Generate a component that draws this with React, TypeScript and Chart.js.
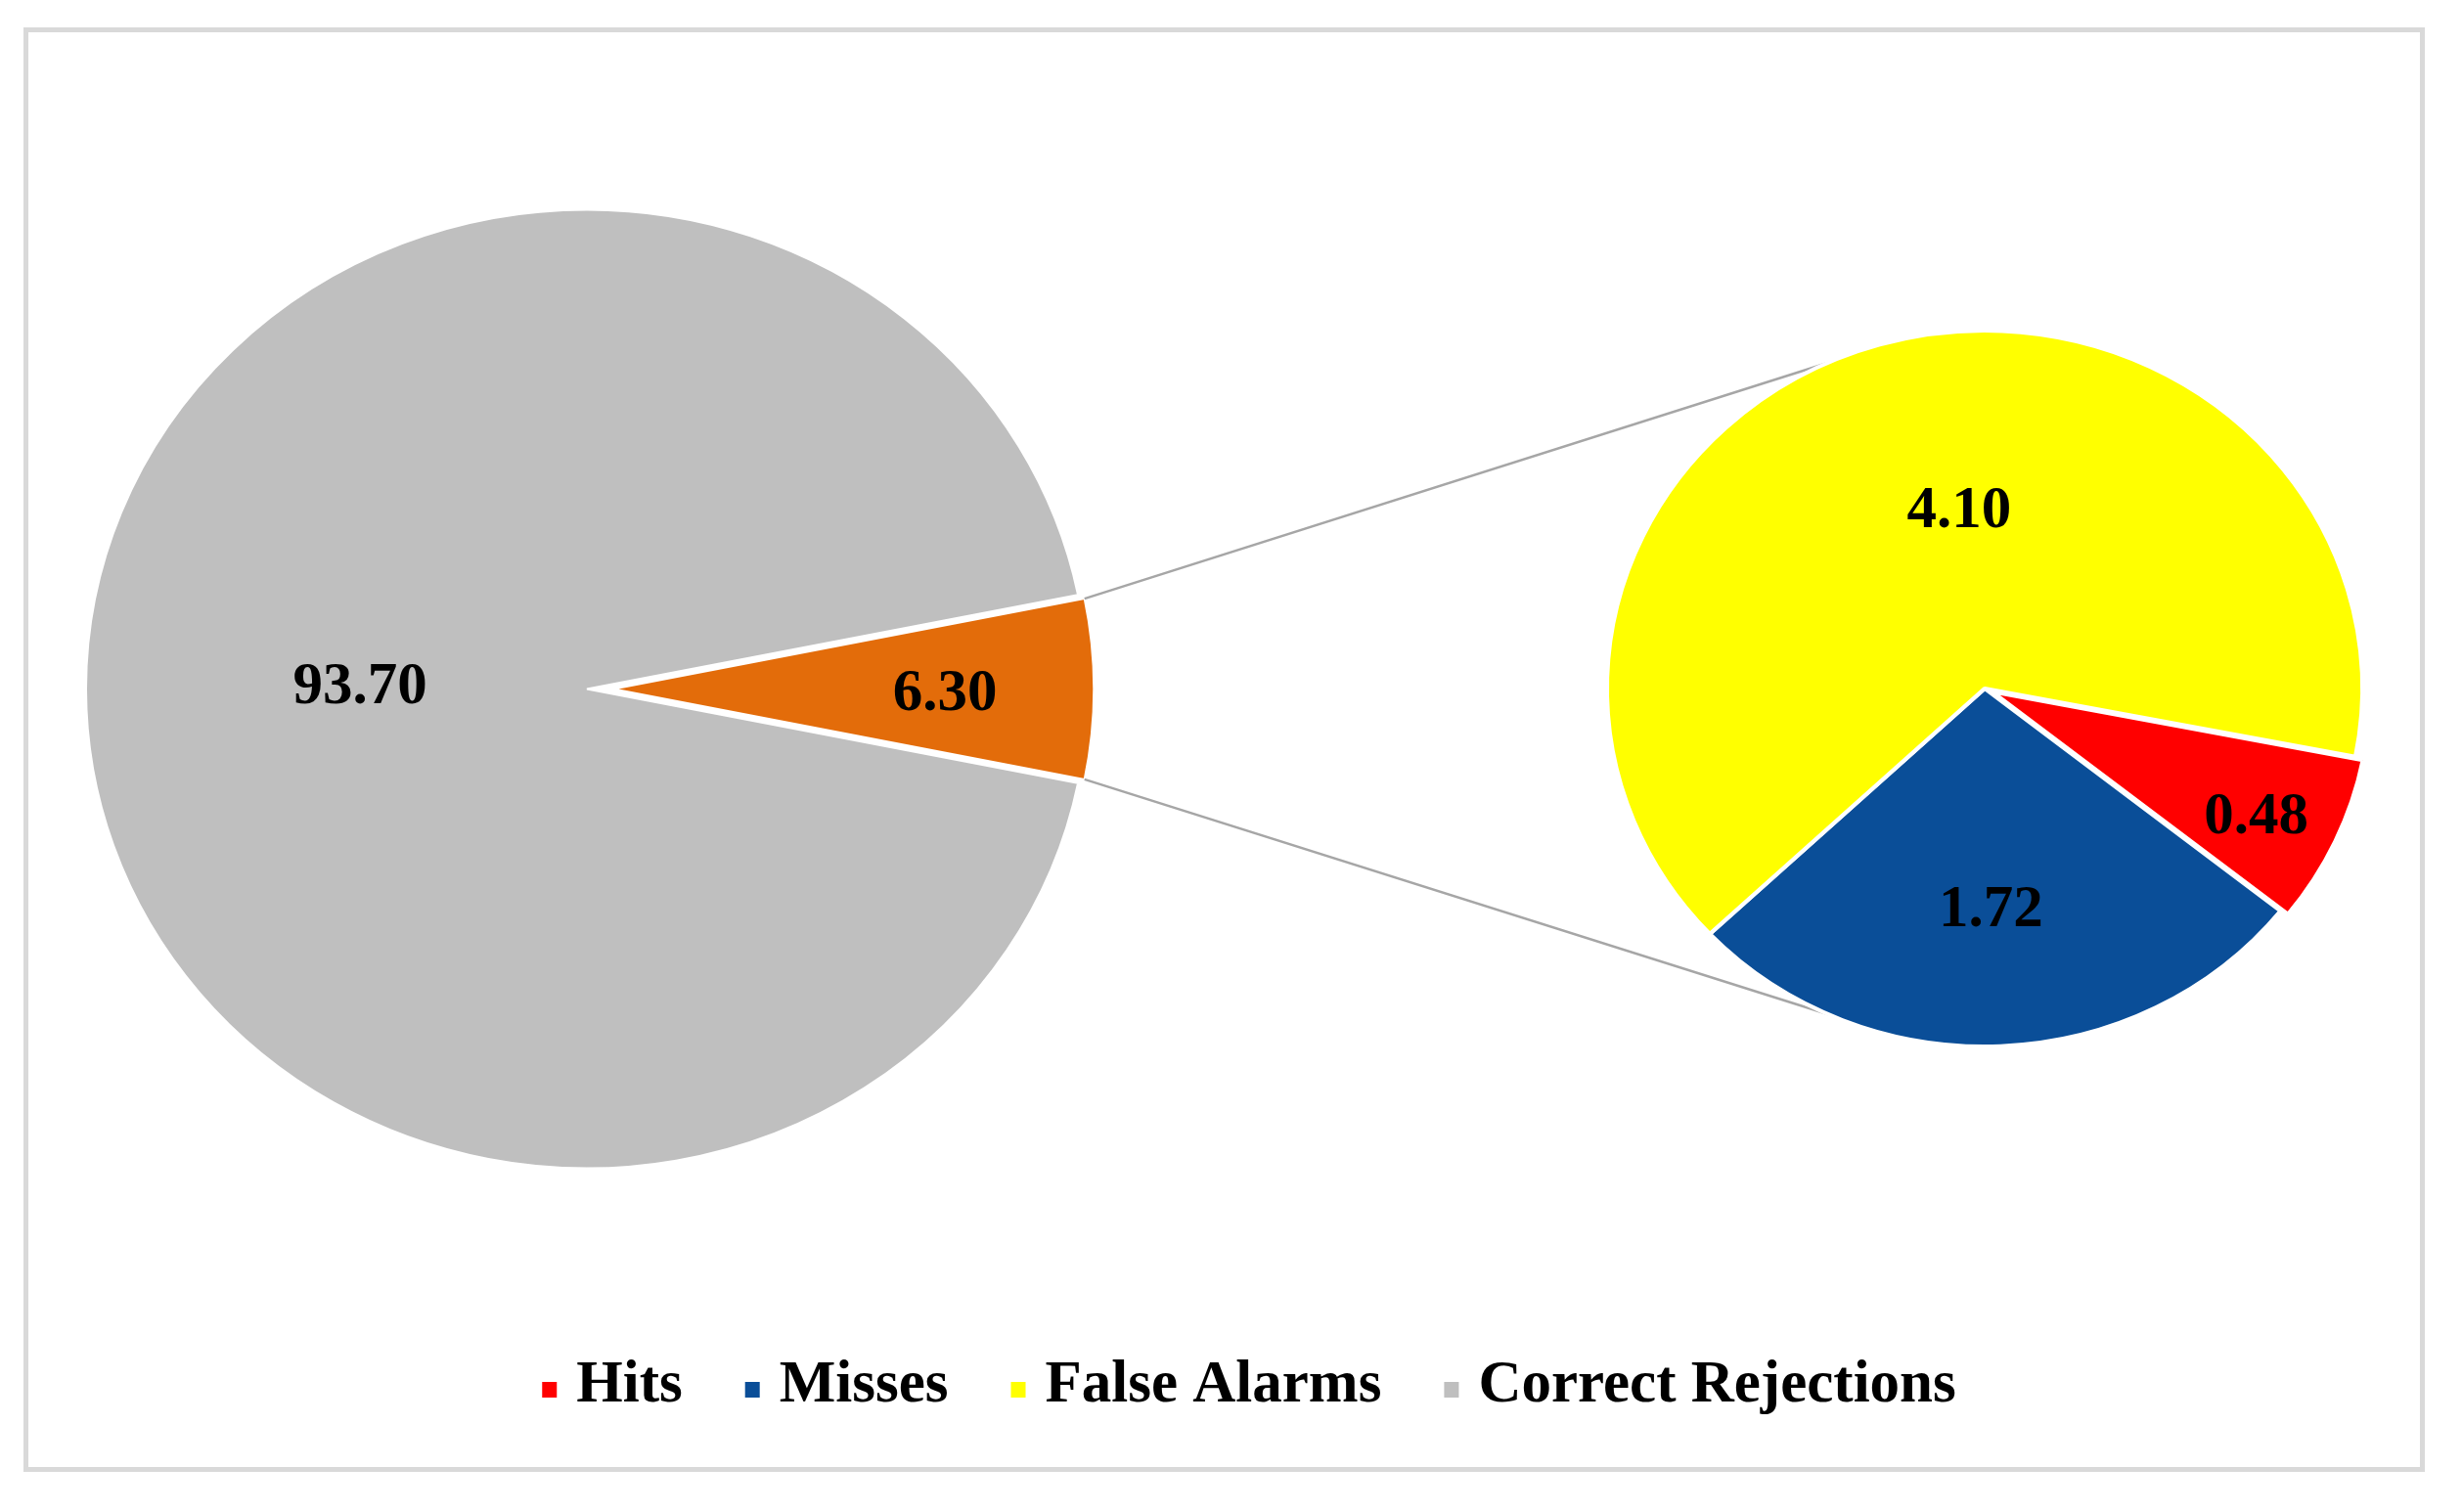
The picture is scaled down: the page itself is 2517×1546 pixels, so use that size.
import React, { useEffect, useRef } from 'react';
import { Chart, registerables } from 'chart.js';

Chart.register(...registerables);

const W = 2517;
const H = 1546;

// ---------- data ----------
const MAIN_LABELS = ['Other', 'Correct Rejections'];
const MAIN_VALUES = [6.3, 93.7];
const MAIN_COLORS = ['#e36c0a', '#bfbfbf'];

const SUB_LABELS = ['Hits', 'Misses', 'False Alarms'];
const SUB_VALUES = [0.48, 1.72, 4.1];
const SUB_COLORS = ['#ff0000', '#0a4e98', '#ffff00'];

const LEGEND_LABELS = ['Hits', 'Misses', 'False Alarms', 'Correct Rejections'];
const LEGEND_COLORS = ['#ff0000', '#0a4e98', '#ffff00', '#bfbfbf'];

// ---------- layout / style ----------
const FONT = 'bold 61px "Liberation Serif", "Times New Roman", serif';
const MAIN_GEOM = {
  cx: 600, cy: 704.5, r: 490, sx: 1.045,
  explode: [26, 0], shrink: [20, 0],
  labelFrac: [0.69, 0.453], labelAdj: [0, 1.8],
};
const SUB_GEOM = {
  cx: 2029, cy: 704, r: 366, sx: 1.055, rotation: 101,
  explode: [8, 0, 0], shrink: [0, 0, 0],
  labelFrac: [0.776, 0.607, 0.514], labelAdj: [1, 0.9, 8.6],
};
const CONNECTOR_ANGLE = 114.4;
const LEGEND = { centerX: 1277, baseline: 1433, sq: 15, sqGap: 20, itemGap: 64 };

function stretchPlugin(sx: number) {
  return {
    id: 'stretch',
    beforeDatasetsDraw(chart: any) {
      const { ctx, chartArea: a } = chart;
      const cx = (a.left + a.right) / 2;
      const cy = (a.top + a.bottom) / 2;
      ctx.save();
      ctx.translate(cx, cy);
      ctx.scale(sx, 1);
      ctx.translate(-cx, -cy);
    },
    afterDatasetsDraw(chart: any) {
      chart.ctx.restore();
    },
  };
}

function explodePlugin(amounts: number[], shrink: number[]) {
  return {
    id: 'explode',
    afterDatasetsUpdate(chart: any) {
      const meta = chart.getDatasetMeta(0);
      meta.data.forEach((arc: any, i: number) => {
        const e = amounts[i] || 0;
        const s = shrink[i] || 0;
        if (e) {
          const mid = (arc.startAngle + arc.endAngle) / 2;
          arc.x += Math.cos(mid) * e;
          arc.y += Math.sin(mid) * e;
        }
        if (s) arc.outerRadius -= s;
      });
    },
  };
}

function arcPoint(chart: any, i: number, angle: number, frac: number, sx: number) {
  const arc = chart.getDatasetMeta(0).data[i];
  const a = chart.chartArea;
  const cx = (a.left + a.right) / 2;
  const px = arc.x + Math.cos(angle) * arc.outerRadius * frac;
  const py = arc.y + Math.sin(angle) * arc.outerRadius * frac;
  return [cx + (px - cx) * sx, py];
}

function valueLabelsPlugin(values: number[], geom: any) {
  return {
    id: 'valueLabels',
    afterDraw(chart: any) {
      const { ctx } = chart;
      const meta = chart.getDatasetMeta(0);
      ctx.save();
      ctx.font = FONT;
      ctx.fillStyle = '#000000';
      ctx.textAlign = 'center';
      ctx.textBaseline = 'alphabetic';
      meta.data.forEach((arc: any, i: number) => {
        const mid = (arc.startAngle + arc.endAngle) / 2 + (geom.labelAdj[i] * Math.PI) / 180;
        const [x, y] = arcPoint(chart, i, mid, geom.labelFrac[i], geom.sx);
        ctx.fillText(values[i].toFixed(2), x, y + 21);
      });
      ctx.restore();
    },
  };
}

export default function App() {
  const aRef = useRef<HTMLCanvasElement>(null);
  const bRef = useRef<HTMLCanvasElement>(null);

  useEffect(() => {
    if (!aRef.current || !bRef.current) return;

    const mainTotal = MAIN_VALUES.reduce((s, v) => s + v, 0);
    const mainRotation = 90 - ((MAIN_VALUES[0] / mainTotal) * 360) / 2;

    const borderPlugin = {
      id: 'frame',
      beforeDraw(chart: any) {
        const { ctx } = chart;
        ctx.save();
        ctx.strokeStyle = '#d9d9d9';
        ctx.lineWidth = 5;
        ctx.strokeRect(26.5, 30.5, 2450, 1472);
        ctx.restore();
      },
    };

    const mainChart = new Chart(aRef.current, {
      type: 'pie',
      data: {
        labels: MAIN_LABELS,
        datasets: [
          {
            data: MAIN_VALUES,
            backgroundColor: MAIN_COLORS,
            borderColor: '#ffffff',
            borderWidth: 2,
            radius: MAIN_GEOM.r,
          } as any,
        ],
      },
      options: {
        responsive: false,
        animation: false,
        events: [],
        rotation: mainRotation,
        layout: {
          padding: { left: 0, top: 0, right: W - 2 * MAIN_GEOM.cx, bottom: H - 2 * MAIN_GEOM.cy },
        },
        plugins: { legend: { display: false }, tooltip: { enabled: false } },
      } as any,
      plugins: [
        borderPlugin,
        explodePlugin(MAIN_GEOM.explode, MAIN_GEOM.shrink),
        stretchPlugin(MAIN_GEOM.sx),
        valueLabelsPlugin(MAIN_VALUES, MAIN_GEOM),
      ],
    });

    const connectorPlugin = {
      id: 'connectors',
      beforeDraw(chart: any) {
        const { ctx } = chart;
        const mArc: any = mainChart.getDatasetMeta(0).data[0];
        const p1 = arcPoint(mainChart, 0, mArc.startAngle, 1, MAIN_GEOM.sx);
        const p2 = arcPoint(mainChart, 0, mArc.endAngle, 1, MAIN_GEOM.sx);
        const a = chart.chartArea;
        const cx = (a.left + a.right) / 2;
        const cy = (a.top + a.bottom) / 2;
        const r = (chart.getDatasetMeta(0).data[1] as any).outerRadius;
        const t = (CONNECTOR_ANGLE * Math.PI) / 180;
        const q1 = [cx + Math.cos(-t) * r * SUB_GEOM.sx, cy + Math.sin(-t) * r];
        const q2 = [cx + Math.cos(t) * r * SUB_GEOM.sx, cy + Math.sin(t) * r];
        ctx.save();
        ctx.strokeStyle = '#a6a6a6';
        ctx.lineWidth = 2.5;
        ctx.beginPath();
        ctx.moveTo(p1[0], p1[1]);
        ctx.lineTo(q1[0], q1[1]);
        ctx.moveTo(p2[0], p2[1]);
        ctx.lineTo(q2[0], q2[1]);
        ctx.stroke();
        ctx.restore();
      },
    };

    const legendPlugin = {
      id: 'customLegend',
      afterDraw(chart: any) {
        const { ctx } = chart;
        ctx.save();
        ctx.font = FONT;
        const widths = LEGEND_LABELS.map((l) => ctx.measureText(l).width);
        const total =
          widths.reduce((s, w) => s + w, 0) +
          LEGEND_LABELS.length * (LEGEND.sq + LEGEND.sqGap) +
          (LEGEND_LABELS.length - 1) * LEGEND.itemGap;
        let x = LEGEND.centerX - total / 2;
        ctx.textAlign = 'left';
        ctx.textBaseline = 'alphabetic';
        LEGEND_LABELS.forEach((label, i) => {
          ctx.fillStyle = LEGEND_COLORS[i];
          ctx.fillRect(x, LEGEND.baseline - 20, LEGEND.sq, LEGEND.sq + 1);
          x += LEGEND.sq + LEGEND.sqGap;
          ctx.fillStyle = '#000000';
          ctx.fillText(label, x, LEGEND.baseline);
          x += widths[i] + LEGEND.itemGap;
        });
        ctx.restore();
      },
    };

    const subChart = new Chart(bRef.current, {
      type: 'pie',
      data: {
        labels: SUB_LABELS,
        datasets: [
          {
            data: SUB_VALUES,
            backgroundColor: SUB_COLORS,
            borderColor: '#ffffff',
            borderWidth: 4,
            radius: SUB_GEOM.r,
          } as any,
        ],
      },
      options: {
        responsive: false,
        animation: false,
        events: [],
        rotation: SUB_GEOM.rotation,
        layout: {
          padding: { left: 2 * SUB_GEOM.cx - W, top: 0, right: 0, bottom: H - 2 * SUB_GEOM.cy },
        },
        plugins: { legend: { display: false }, tooltip: { enabled: false } },
      } as any,
      plugins: [
        connectorPlugin,
        explodePlugin(SUB_GEOM.explode, SUB_GEOM.shrink),
        stretchPlugin(SUB_GEOM.sx),
        valueLabelsPlugin(SUB_VALUES, SUB_GEOM),
        legendPlugin,
      ],
    });

    return () => {
      subChart.destroy();
      mainChart.destroy();
    };
  }, []);

  return (
    <div style={{ position: 'absolute', left: 0, top: 0, width: W, height: H, background: '#ffffff' }}>
      <canvas ref={aRef} width={W} height={H} style={{ position: 'absolute', left: 0, top: 0 }} />
      <canvas ref={bRef} width={W} height={H} style={{ position: 'absolute', left: 0, top: 0 }} />
    </div>
  );
}
